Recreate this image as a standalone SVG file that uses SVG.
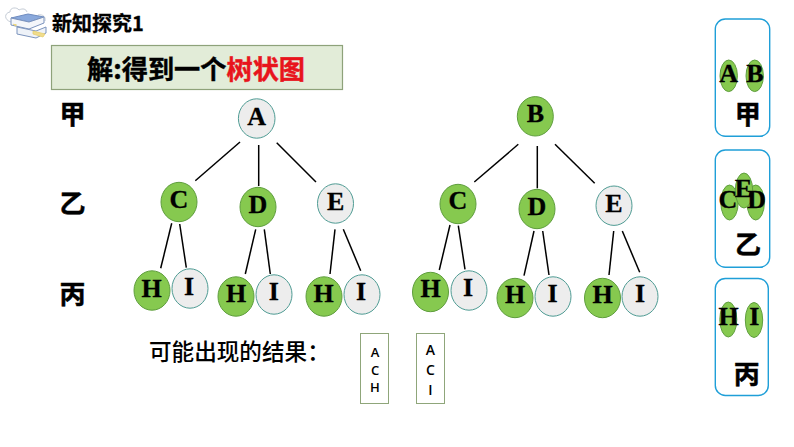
<svg xmlns="http://www.w3.org/2000/svg" width="794" height="447" viewBox="0 0 794 447">
<style>
.g{fill:#86c94f;stroke:#5f9e3e;stroke-width:1}
.w{fill:#ededed;stroke:#4f9c94;stroke-width:1}
.l{font-family:"Liberation Serif",serif;font-weight:700;font-size:26px;fill:#000;text-anchor:middle;stroke:#000;stroke-width:.3}
.pl{font-size:26px}
.c{font-family:"Noto Sans CJK SC","Liberation Sans",sans-serif;font-weight:700;fill:#000}
.k{font-size:26px;text-anchor:middle;stroke:#000;stroke-width:.5}
.p{fill:#fff;stroke:#1f9fd8;stroke-width:1.4}
.r{fill:#fff;stroke:#8fa67a;stroke-width:1}
.t{font-family:"Open Sans","Liberation Sans",sans-serif;font-weight:600;fill:#000;text-anchor:middle}
#connectors line{stroke:#000;stroke-width:1.5}
</style>
<rect width="794" height="447" fill="#fff"/>
<g id="icon" fill="none" stroke-linejoin="round">
<path d="M11 22c-7-2-7-9-1-10 0-5 7-5 9-2 4-2 7-1 8 2M38 15c5-1 8 2 7 6" stroke="#c5ccd6" stroke-width="1"/>
<path d="M11 18l17-4 16 3-15 5z" fill="#8aa9dc" stroke="#6f8cc0"/>
<path d="M11 18v7l18 4 15-6v-6l-15 5z" fill="#f4f6fa" stroke="#7b93bd"/>
<path d="M17 27v7l19 4 10-5v-6l-10 4z" fill="#eef2f8" stroke="#7b93bd"/>
<path d="M13 24l3 2v-2M33 31l12 3-2 3-10-3z" fill="#f0dc8c" stroke="#e6cf6e" stroke-width=".8"/>
</g>
<text id="heading" class="c" x="52" y="31" font-size="20" stroke="#000" stroke-width=".3">新知探究1</text>
<g id="title">
<rect x="51.500" y="45.500" width="291" height="44" fill="#e2ecd8" stroke="#8ea27a" stroke-width="1.200"/>
<text class="c" x="87" y="78.500" font-size="26.200" stroke="#000" stroke-width=".4">解:得到一个<tspan fill="#e8141c" stroke="#e8141c">树状图</tspan></text>
</g>
<g id="levels">
<text class="c k" x="72.500" y="124">甲</text>
<text class="c k" x="72.500" y="213">乙</text>
<text class="c k" x="72.500" y="303.500">丙</text>
</g>
<g id="connectors">
<line x1="240" y1="142" x2="195.300" y2="180.700"/>
<line x1="258.700" y1="145" x2="258.700" y2="186"/>
<line x1="276.700" y1="142.700" x2="316" y2="182"/>
<line x1="171.700" y1="223.300" x2="160.700" y2="268.300"/>
<line x1="179.700" y1="224" x2="186.300" y2="267.700"/>
<line x1="255.700" y1="229.300" x2="245.300" y2="274"/>
<line x1="264.300" y1="229.300" x2="270.300" y2="274"/>
<line x1="335" y1="229.300" x2="330" y2="274"/>
<line x1="343.300" y1="229.300" x2="360.700" y2="270.700"/>
<line x1="518.300" y1="144.300" x2="474.300" y2="182"/>
<line x1="537.300" y1="146" x2="537.300" y2="188.300"/>
<line x1="555" y1="144.300" x2="594.700" y2="183.300"/>
<line x1="450" y1="225" x2="439.300" y2="270"/>
<line x1="458.300" y1="225.700" x2="465" y2="269.300"/>
<line x1="534" y1="231" x2="524" y2="275.700"/>
<line x1="542.700" y1="231" x2="549" y2="275"/>
<line x1="613.700" y1="231" x2="609" y2="275"/>
<line x1="622.300" y1="231" x2="639.700" y2="272.300"/>
</g>
<g id="n-A"><ellipse class="w" cx="256.700" cy="118.500" rx="18.300" ry="19.700"/><text class="l" x="256.700" y="125">A</text></g>
<g id="n-C1"><ellipse class="g" cx="179" cy="202" rx="18" ry="19.700"/><text class="l" x="179" y="207.700">C</text></g>
<g id="n-D1"><ellipse class="g" cx="258" cy="207" rx="18" ry="19.700"/><text class="l" x="258" y="212.700">D</text></g>
<g id="n-E1"><ellipse class="w" cx="335.500" cy="203.500" rx="18" ry="19.700"/><text class="l" x="335.700" y="210">E</text></g>
<g id="n-H1"><ellipse class="g" cx="152" cy="290.500" rx="18" ry="19.700"/><text class="l" x="151.700" y="296.700">H</text></g>
<g id="n-I1"><ellipse class="w" cx="190" cy="288.500" rx="18" ry="19.700"/><text class="l" x="189" y="295">I</text></g>
<g id="n-H2"><ellipse class="g" cx="236" cy="296.500" rx="18" ry="19.700"/><text class="l" x="236" y="302">H</text></g>
<g id="n-I2"><ellipse class="w" cx="274" cy="294.500" rx="18" ry="19.700"/><text class="l" x="273.700" y="300">I</text></g>
<g id="n-H3"><ellipse class="g" cx="324" cy="296.500" rx="18" ry="19.700"/><text class="l" x="323.700" y="302">H</text></g>
<g id="n-I3"><ellipse class="w" cx="362" cy="294.500" rx="18" ry="19.700"/><text class="l" x="361" y="300">I</text></g>
<g id="n-B"><ellipse class="g" cx="535.300" cy="116.300" rx="18" ry="19.700"/><text class="l" x="535.300" y="122">B</text></g>
<g id="n-C2"><ellipse class="g" cx="458" cy="204" rx="18" ry="19.700"/><text class="l" x="458" y="209">C</text></g>
<g id="n-D2"><ellipse class="g" cx="537" cy="209" rx="18" ry="19.700"/><text class="l" x="537" y="215">D</text></g>
<g id="n-E2"><ellipse class="w" cx="614" cy="205.700" rx="18" ry="19.700"/><text class="l" x="614" y="211.700">E</text></g>
<g id="n-H4"><ellipse class="g" cx="430.500" cy="292" rx="18" ry="19.700"/><text class="l" x="430.500" y="297.300">H</text></g>
<g id="n-I4"><ellipse class="w" cx="469" cy="290.500" rx="18" ry="19.700"/><text class="l" x="468" y="296">I</text></g>
<g id="n-H5"><ellipse class="g" cx="515" cy="298" rx="18" ry="19.700"/><text class="l" x="515" y="303">H</text></g>
<g id="n-I5"><ellipse class="w" cx="553" cy="296.500" rx="18" ry="19.700"/><text class="l" x="552.500" y="301.700">I</text></g>
<g id="n-H6"><ellipse class="g" cx="602.500" cy="298" rx="18" ry="19.700"/><text class="l" x="602.500" y="303">H</text></g>
<g id="n-I6"><ellipse class="w" cx="640" cy="296.500" rx="18" ry="19.700"/><text class="l" x="640" y="301.700">I</text></g>
<g id="result-label"><text class="c" x="149" y="359.500" font-size="22.600" style="font-weight:500">可能出现的结果：</text></g>
<g id="result-1">
<rect class="r" x="360.500" y="333.500" width="28" height="70"/>
<text class="t" font-size="13"><tspan x="375" y="356.700">A</tspan><tspan x="375" y="374.500">C</tspan><tspan x="375" y="392">H</tspan></text>
</g>
<g id="result-2">
<rect class="r" x="416.500" y="333.500" width="28" height="70"/>
<text class="t" font-size="14"><tspan x="430.500" y="354.500">A</tspan><tspan x="430.500" y="375">C</tspan><tspan x="430.500" y="394.500">I</tspan></text>
</g>
<g id="panel-1">
<rect class="p" x="715.300" y="19" width="54.400" height="117.300" rx="10"/>
<ellipse class="g" cx="728.700" cy="75.800" rx="8.700" ry="15.800"/>
<ellipse class="g" cx="754.700" cy="75.800" rx="8.700" ry="15.800"/>
<text class="l pl" x="728.700" y="81.700">A</text><text class="l pl" x="755" y="81.700">B</text>
<text class="c k" x="747.700" y="124">甲</text>
</g>
<g id="panel-2">
<rect class="p" x="715.300" y="150" width="54.400" height="117.300" rx="10"/>
<ellipse class="g" cx="729.500" cy="202.500" rx="8.700" ry="17.500"/>
<ellipse class="g" cx="755.700" cy="202.500" rx="8.700" ry="17.500"/>
<ellipse class="g" cx="744" cy="190.500" rx="8.700" ry="17.500"/>
<text class="l pl" x="728" y="207.700">C</text><text class="l pl" x="756.700" y="208.300">D</text><text class="l pl" x="743.300" y="196.700">E</text>
<text class="c k" x="748" y="254">乙</text>
</g>
<g id="panel-3">
<rect class="p" x="715.300" y="278.500" width="53" height="117" rx="10"/>
<ellipse class="g" cx="728.300" cy="319.500" rx="8.500" ry="17.500"/>
<ellipse class="g" cx="754" cy="320" rx="8.700" ry="17.500"/>
<text class="l pl" x="728.700" y="325">H</text><text class="l pl" x="754.300" y="325">I</text>
<text class="c k" x="746.700" y="384">丙</text>
</g>
</svg>
